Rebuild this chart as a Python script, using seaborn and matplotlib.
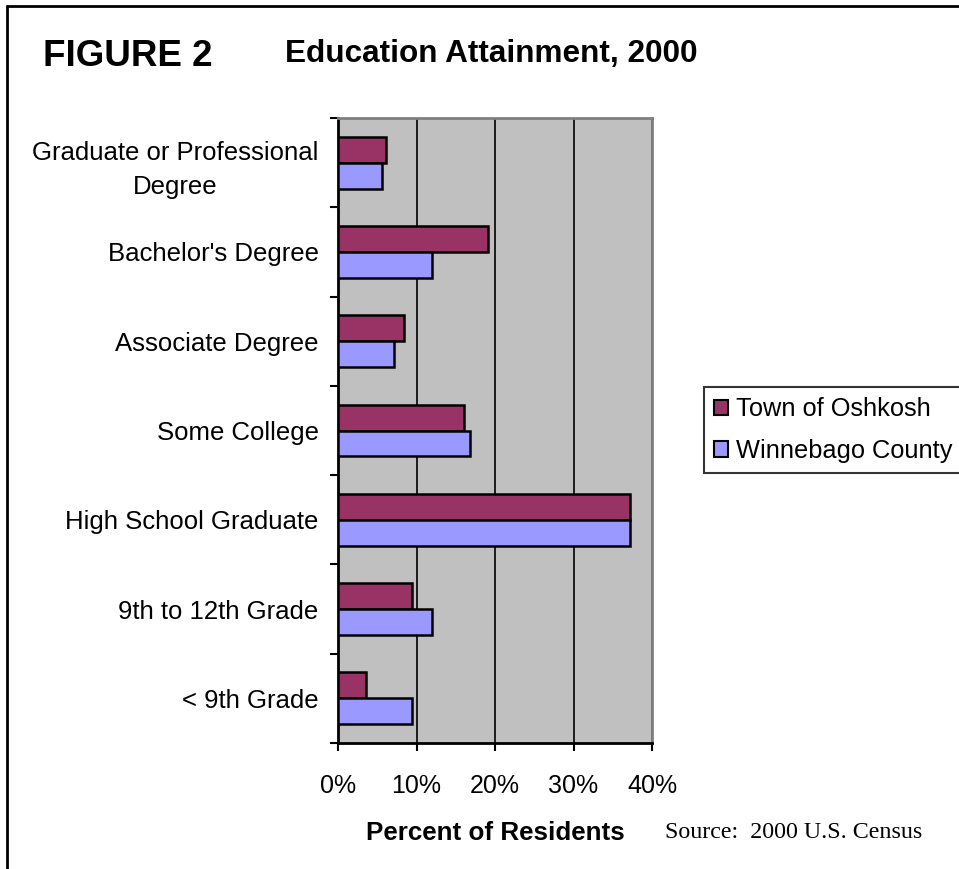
import numpy as np
import pandas as pd
import seaborn as sns
from matplotlib import pyplot as plt
from matplotlib.patches import Rectangle
from matplotlib.lines import Line2D

sns.set_style("white")
plt.rcParams['font.family'] = ['Liberation Sans', 'DejaVu Sans']
plt.rcParams['text.color'] = 'black'
plt.rcParams['xtick.color'] = 'black'
plt.rcParams['ytick.color'] = 'black'
plt.rcParams['axes.labelcolor'] = 'black'

categories = ["Graduate or Professional\nDegree", "Bachelor's Degree", "Associate Degree",
              "Some College", "High School Graduate", "9th to 12th Grade", "< 9th Grade"]
oshkosh = [6.1, 19.1, 8.4, 16.0, 37.2, 9.4, 3.6]
winnebago = [5.6, 12.0, 7.1, 16.8, 37.2, 12.0, 9.4]
series = ["Town of Oshkosh", "Winnebago County"]
colors = ["#993366", "#9999FF"]

df = pd.DataFrame({
    "Category": categories * 2,
    "Percent": oshkosh + winnebago,
    "Series": [series[0]] * len(categories) + [series[1]] * len(categories),
})

fig = plt.figure(figsize=(9.59, 8.69), dpi=100)
ax = fig.add_axes([338/959, 1 - 743/869, 314/959, 625/869])

sns.barplot(data=df, y="Category", x="Percent", hue="Series", orient="h",
            palette=colors, saturation=1, width=0.58, edgecolor="black", linewidth=1.8,
            ax=ax, legend=False, zorder=3)

ax.set_facecolor("#C0C0C0")
ax.set_xlim(0, 40)
ax.set_ylim(6.5, -0.5)
ax.set_xticks([0, 10, 20, 30, 40])
ax.set_xticklabels(["0%", "10%", "20%", "30%", "40%"], fontsize=18)
ax.xaxis.grid(True, color="black", linewidth=1.2, zorder=1)
ax.set_axisbelow(True)

# y ticks sit between categories, labels in the middle
ax.set_yticks(np.arange(len(categories)))
ax.set_yticklabels(categories, fontsize=18.5, multialignment="center", linespacing=1.5)
ax.set_yticks(np.arange(-0.5, len(categories)), minor=True)
ax.tick_params(axis="y", which="major", length=0, pad=14)
ax.tick_params(axis="y", which="minor", length=6, width=1.5, direction="out", color="black", left=True)
ax.tick_params(axis="x", length=6, width=1.5, direction="out", color="black", pad=16, bottom=True)

for s in ["left", "bottom"]:
    ax.spines[s].set_color("black")
    ax.spines[s].set_linewidth(2)
for s in ["top", "right"]:
    ax.spines[s].set_color("#808080")
    ax.spines[s].set_linewidth(2)

ax.set_ylabel("")
ax.set_xlabel("Percent of Residents", fontsize=18.7, fontweight="bold", labelpad=17)

handles = [Rectangle((0, 0), 1, 1, facecolor=c, edgecolor="black", linewidth=1.5) for c in colors]
leg = fig.legend(handles, series, loc="upper left", bbox_to_anchor=(704/959, 1 - 387/869),
                 fontsize=18.3, frameon=True, fancybox=False, handlelength=0.55, handleheight=0.55,
                 handletextpad=0.3, borderpad=0.4, labelspacing=0.7, borderaxespad=0)
leg.get_frame().set_edgecolor("black")
leg.get_frame().set_linewidth(1.5)

fig.text(43/959, 1 - 56/869, "FIGURE 2", fontsize=26.5, fontweight="bold", va="center")
fig.text(285/959, 1 - 54/869, "Education Attainment, 2000", fontsize=22.7, fontweight="bold", va="center")
fig.text(665/959, 1 - 833/869, "Source:  2000 U.S. Census", fontsize=17.3,
         family=["Liberation Serif", "DejaVu Serif"], va="center")

# page frame on left and top
fig.add_artist(Line2D([7/959, 7/959], [0, 1 - 6/869], color="black", linewidth=2))
fig.add_artist(Line2D([7/959, 1], [1 - 6/869, 1 - 6/869], color="black", linewidth=2))

fig.savefig("out.png", dpi=100)
